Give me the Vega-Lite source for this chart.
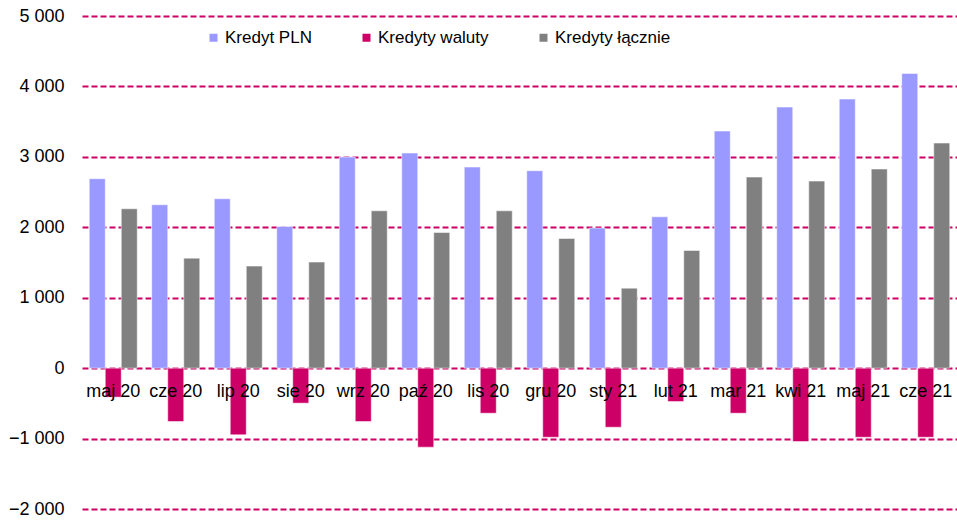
{
  "$schema": "https://vega.github.io/schema/vega-lite/v6.json",
  "width": 875,
  "height": 493,
  "autosize": {"type": "none"},
  "padding": {"left": 82, "top": 16, "right": 0, "bottom": 13},
  "background": "white",
  "config": {
    "view": {"stroke": null},
    "font": "Liberation Sans",
    "axis": {"labelFont": "Liberation Sans", "labelColor": "#000000"},
    "legend": {"labelFont": "Liberation Sans"}
  },
  "data": {
    "values": [
      {"m": "maj 20", "s": "Kredyt PLN", "v": 2690},
      {"m": "maj 20", "s": "Kredyty waluty", "v": -412},
      {"m": "maj 20", "s": "Kredyty łącznie", "v": 2263},
      {"m": "cze 20", "s": "Kredyt PLN", "v": 2320},
      {"m": "cze 20", "s": "Kredyty waluty", "v": -758},
      {"m": "cze 20", "s": "Kredyty łącznie", "v": 1562},
      {"m": "lip 20", "s": "Kredyt PLN", "v": 2405},
      {"m": "lip 20", "s": "Kredyty waluty", "v": -947},
      {"m": "lip 20", "s": "Kredyty łącznie", "v": 1449},
      {"m": "sie 20", "s": "Kredyt PLN", "v": 2011},
      {"m": "sie 20", "s": "Kredyty waluty", "v": -497},
      {"m": "sie 20", "s": "Kredyty łącznie", "v": 1506},
      {"m": "wrz 20", "s": "Kredyt PLN", "v": 2997},
      {"m": "wrz 20", "s": "Kredyty waluty", "v": -758},
      {"m": "wrz 20", "s": "Kredyty łącznie", "v": 2234},
      {"m": "paź 20", "s": "Kredyt PLN", "v": 3054},
      {"m": "paź 20", "s": "Kredyty waluty", "v": -1122},
      {"m": "paź 20", "s": "Kredyty łącznie", "v": 1926},
      {"m": "lis 20", "s": "Kredyt PLN", "v": 2855},
      {"m": "lis 20", "s": "Kredyty waluty", "v": -640},
      {"m": "lis 20", "s": "Kredyty łącznie", "v": 2234},
      {"m": "gru 20", "s": "Kredyt PLN", "v": 2803},
      {"m": "gru 20", "s": "Kredyty waluty", "v": -981},
      {"m": "gru 20", "s": "Kredyty łącznie", "v": 1841},
      {"m": "sty 21", "s": "Kredyt PLN", "v": 1989},
      {"m": "sty 21", "s": "Kredyty waluty", "v": -839},
      {"m": "sty 21", "s": "Kredyty łącznie", "v": 1136},
      {"m": "lut 21", "s": "Kredyt PLN", "v": 2149},
      {"m": "lut 21", "s": "Kredyty waluty", "v": -474},
      {"m": "lut 21", "s": "Kredyty łącznie", "v": 1670},
      {"m": "mar 21", "s": "Kredyt PLN", "v": 3366},
      {"m": "mar 21", "s": "Kredyty waluty", "v": -640},
      {"m": "mar 21", "s": "Kredyty łącznie", "v": 2713},
      {"m": "kwi 21", "s": "Kredyt PLN", "v": 3707},
      {"m": "kwi 21", "s": "Kredyty waluty", "v": -1042},
      {"m": "kwi 21", "s": "Kredyty łącznie", "v": 2656},
      {"m": "maj 21", "s": "Kredyt PLN", "v": 3821},
      {"m": "maj 21", "s": "Kredyty waluty", "v": -981},
      {"m": "maj 21", "s": "Kredyty łącznie", "v": 2827},
      {"m": "cze 21", "s": "Kredyt PLN", "v": 4185},
      {"m": "cze 21", "s": "Kredyty waluty", "v": -981},
      {"m": "cze 21", "s": "Kredyty łącznie", "v": 3196}
    ]
  },
  "mark": {"type": "bar", "stroke": "#ffffff", "strokeOpacity": 0.5, "strokeWidth": 1},
  "encoding": {
    "x": {
      "field": "m",
      "type": "nominal",
      "sort": null,
      "title": null,
      "scale": {"paddingInner": 0.232, "paddingOuter": 0.116},
      "axis": {
        "orient": "bottom",
        "offset": -141,
        "domain": false,
        "ticks": false,
        "labelAngle": 0,
        "labelFontSize": 18,
        "labelPadding": 14,
        "labelColor": "#000000",
        "zindex": 1
      }
    },
    "xOffset": {
      "field": "s",
      "type": "nominal",
      "sort": ["Kredyt PLN", "Kredyty waluty", "Kredyty łącznie"],
      "scale": {"paddingInner": 0, "paddingOuter": 0}
    },
    "y": {
      "field": "v",
      "type": "quantitative",
      "title": null,
      "scale": {"domain": [-2000, 5000], "nice": false, "zero": false},
      "axis": {
        "values": [-2000, -1000, 0, 1000, 2000, 3000, 4000, 5000],
        "labelExpr": "replace(format(datum.value, ','), ',', ' ')",
        "domain": false,
        "ticks": false,
        "labelFontSize": 18,
        "labelPadding": 18,
        "grid": true,
        "gridColor": "#CC0066",
        "gridWidth": 2,
        "gridDash": [6, 3],
        "gridOpacity": 1
      }
    },
    "color": {
      "field": "s",
      "type": "nominal",
      "sort": ["Kredyt PLN", "Kredyty waluty", "Kredyty łącznie"],
      "scale": {
        "domain": ["Kredyt PLN", "Kredyty waluty", "Kredyty łącznie"],
        "range": ["#9999FF", "#CC0066", "#808080"]
      },
      "legend": {
        "title": null,
        "orient": "none",
        "legendX": 123,
        "legendY": 13,
        "direction": "horizontal",
        "symbolType": "square",
        "symbolSize": 64,
        "symbolStrokeWidth": 0,
        "labelFontSize": 17,
        "labelColor": "#000000",
        "columnPadding": 46,
        "labelOffset": 3
      }
    }
  }
}
